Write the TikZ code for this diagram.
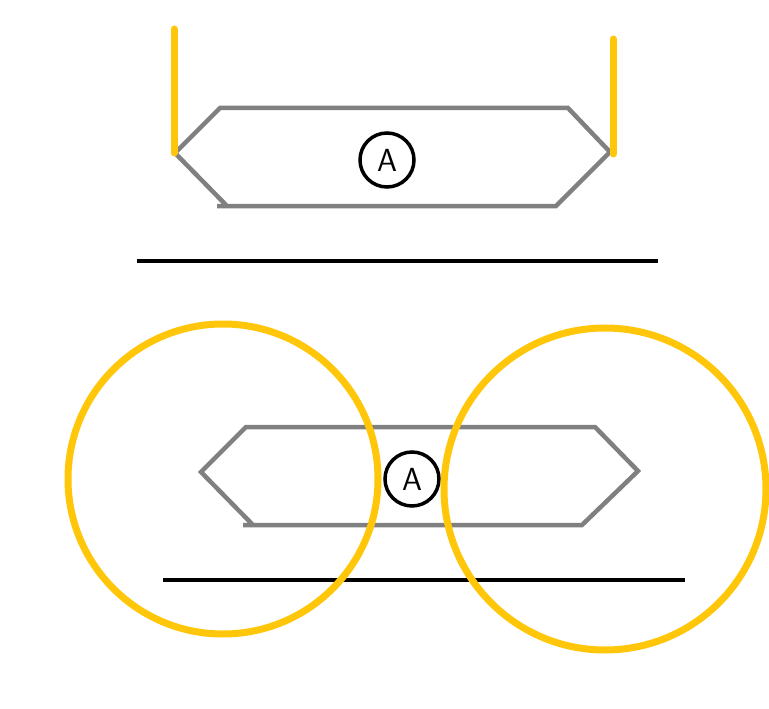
\documentclass[tikz,border=0pt]{standalone}
\begin{document}
\begin{tikzpicture}[x=1pt,y=-1pt,
  hexline/.style={draw=hexgray,line width=4.5pt,line join=miter},
  yel/.style={draw=ybright,line width=7pt},
  blk/.style={draw=black,line width=4.5pt},
  abox/.style={circle,draw=black,line width=3.5pt,minimum size=54pt,inner sep=0pt,font=\sffamily\fontsize{32}{32}\selectfont}]
\definecolor{hexgray}{RGB}{128,128,128}
\definecolor{ybright}{RGB}{255,198,10}
\useasboundingbox (0,0) rectangle (769,709);
% top hexagon
\draw[hexline] (217,206) -- (556,206) -- (610,152) -- (568,108) -- (220,108) -- (175,153) -- (227,206);
\draw[yel,line cap=round] (174,29) -- (174,153);
\draw[yel,line cap=round] (613,39) -- (613,154);
\node[abox] (a1) at (387,160) {A};
\draw[blk] (137,261) -- (658,261);
% bottom hexagon
\draw[hexline] (243,525) -- (582,525) -- (638,471) -- (595,427) -- (246,427) -- (201,472) -- (253,525);
\node[abox] (a2) at (412,479) {A};
\draw[blk] (163,580) -- (685,580);
\draw[yel] (223,479) circle (155);
\draw[yel] (605,489) circle (161);
\end{tikzpicture}
\end{document}
